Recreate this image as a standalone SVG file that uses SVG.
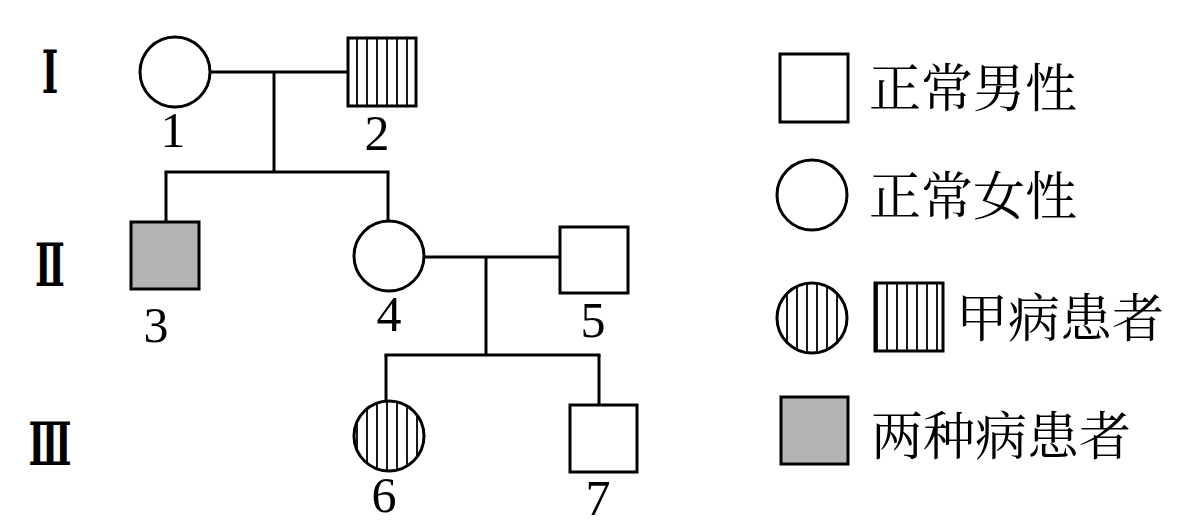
<svg xmlns="http://www.w3.org/2000/svg" width="1200" height="527" viewBox="0 0 1200 527">
<style>
.sh{fill:#fff;stroke:#000;stroke-width:3}
.st{fill:url(#stripes);stroke:#000;stroke-width:3}
.gr{fill:#b3b3b3;stroke:#000;stroke-width:3}
.ln{stroke:#000;stroke-width:3;fill:none}
.num{font-family:"Liberation Serif","DejaVu Serif",serif;font-size:50px;fill:#000;text-anchor:middle}
.gen{font-family:"DejaVu Serif","Liberation Serif",serif;font-size:59px;font-weight:bold;fill:#000;text-anchor:middle}
.leg{font-family:"Noto Serif CJK SC","Noto Sans CJK SC",serif;font-size:52px;fill:#000}
</style>
<defs>
<pattern id="stripes" patternUnits="userSpaceOnUse" x="2" y="0" width="10" height="10">
<rect width="10" height="10" fill="#fff"/>
<line x1="5" y1="0" x2="5" y2="10" stroke="#000" stroke-width="1.8"/>
</pattern>
</defs>
<g id="generations">
<text class="gen" transform="translate(50,93) scale(0.6,1)">Ⅰ</text>
<text class="gen" transform="translate(50,286) scale(0.6,1)">Ⅱ</text>
<text class="gen" transform="translate(50,465) scale(0.6,1)">Ⅲ</text>
</g>
<g id="connectors">
<line class="ln" x1="210" y1="72" x2="348" y2="72"/>
<line class="ln" x1="274" y1="72" x2="274" y2="172"/>
<line class="ln" x1="164.5" y1="172" x2="389.5" y2="172"/>
<line class="ln" x1="166" y1="172" x2="166" y2="222"/>
<line class="ln" x1="388" y1="172" x2="388" y2="221"/>
<line class="ln" x1="424" y1="257" x2="560" y2="257"/>
<line class="ln" x1="486" y1="257" x2="486" y2="355"/>
<line class="ln" x1="384.5" y1="355" x2="600.5" y2="355"/>
<line class="ln" x1="386" y1="355" x2="386" y2="402"/>
<line class="ln" x1="599" y1="355" x2="599" y2="405"/>
</g>
<g id="n1"><circle class="sh" cx="175" cy="72" r="35"/><text class="num" x="173" y="147">1</text></g>
<g id="n2"><rect class="st" x="348" y="38" width="68" height="68"/><text class="num" x="377" y="150">2</text></g>
<g id="n3"><rect class="gr" x="131" y="222" width="68" height="67"/><text class="num" x="156" y="342">3</text></g>
<g id="n4"><circle class="sh" cx="389" cy="256" r="35"/><text class="num" x="389" y="331">4</text></g>
<g id="n5"><rect class="sh" x="560" y="227" width="68" height="66"/><text class="num" x="593" y="337">5</text></g>
<g id="n6"><circle class="st" cx="389" cy="436" r="35"/><text class="num" x="384" y="512">6</text></g>
<g id="n7"><rect class="sh" x="570" y="405" width="67" height="67"/><text class="num" x="598" y="515">7</text></g>
<g id="legend-male"><rect class="sh" x="780" y="54" width="68" height="68"/><text class="leg" x="869" y="107">正常男性</text></g>
<g id="legend-female"><circle class="sh" cx="812" cy="195" r="35"/><text class="leg" x="869" y="215">正常女性</text></g>
<g id="legend-a"><circle class="st" cx="812" cy="318" r="35"/><rect class="st" x="875" y="283" width="68" height="68"/><text class="leg" x="956" y="337">甲病患者</text></g>
<g id="legend-both"><rect class="gr" x="781" y="397" width="67" height="67"/><text class="leg" x="871" y="455">两种病患者</text></g>
</svg>
